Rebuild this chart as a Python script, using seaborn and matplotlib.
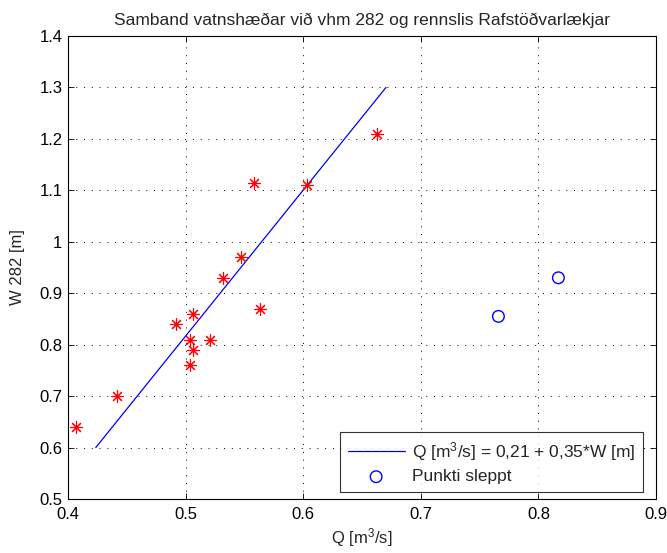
import numpy as np
import pandas as pd
import matplotlib
matplotlib.use("Agg")
import matplotlib.pyplot as plt
import seaborn as sns

# Measured discharge Q [m3/s] and stage W [m]
q_kept = [0.407, 0.442, 0.492, 0.506, 0.5035, 0.506, 0.5035, 0.521, 0.532, 0.547, 0.563, 0.558, 0.603, 0.663]
w_kept = [0.64, 0.70, 0.84, 0.86, 0.81, 0.79, 0.76, 0.81, 0.93, 0.97, 0.87, 1.115, 1.11, 1.21]
q_dropped = [0.766, 0.817]
w_dropped = [0.855, 0.93]

# Fitted relation Q = a + b*W
fit_a = 0.212
fit_b = 0.3526
w_fit = [0.6, 1.3]

sns.set_theme(style="ticks")
plt.rcParams["font.family"] = ["Liberation Sans", "DejaVu Sans"]
plt.rcParams["mathtext.fontset"] = "custom"
plt.rcParams["mathtext.rm"] = "Liberation Sans"
plt.rcParams["mathtext.it"] = "Liberation Sans"
plt.rcParams["font.size"] = 12

fig = plt.figure(figsize=(6.67, 5.53), dpi=100)
ax = fig.add_axes([0.102, 0.0976, 0.8815, 0.8373])

fit_df = pd.DataFrame({"W": w_fit})
fit_df["Q"] = fit_a + fit_b * fit_df["W"]
label_fit = "Q [m$^3$/s] = {} + {}*W [m]".format(
    f"{fit_a:.2f}".replace(".", ","), f"{fit_b:.2f}".replace(".", ","))

sns.lineplot(data=fit_df, x="Q", y="W", color="#0000ff", linewidth=0.9,
             label=label_fit, ax=ax, sort=False)
ax.plot(q_kept, w_kept, linestyle="none", marker=(8, 2, 0), markersize=9,
        markeredgecolor="#ff0000", markeredgewidth=0.8, label="_kept")
sns.scatterplot(x=q_dropped, y=w_dropped, marker="o", s=70, facecolor="none",
                edgecolor="#0000ff", linewidth=1.0, label="Punkti sleppt", ax=ax)

ax.set_xlim(0.4, 0.9)
ax.set_ylim(0.5, 1.4)
ax.set_xticks(np.arange(0.4, 0.91, 0.1))
ax.set_yticks(np.arange(0.5, 1.41, 0.1))
ax.set_xticklabels(["0.4", "0.5", "0.6", "0.7", "0.8", "0.9"])
ax.set_yticklabels(["0.5", "0.6", "0.7", "0.8", "0.9", "1", "1.1", "1.2", "1.3", "1.4"])
ax.grid(True, color="black", linestyle=(0, (1, 7)), linewidth=0.7)
ax.tick_params(direction="in", top=True, right=True, length=4, width=0.6,
               labelsize=12, colors="black")
ax.tick_params(axis="x", pad=6)
ax.tick_params(axis="y", pad=4)
for sp in ax.spines.values():
    sp.set_linewidth(0.8)
    sp.set_color("black")

ax.set_xlabel("Q [m$^3$/s]", fontsize=12, labelpad=3)
ax.set_ylabel("W 282 [m]", fontsize=12, labelpad=10)
ax.set_title("Samband vatnshæðar við vhm 282 og rennslis Rafstöðvarlækjar",
             fontsize=12.5, pad=8)

leg = ax.legend(loc="lower right", frameon=True, fancybox=False, fontsize=12.5,
                handlelength=3.3, borderpad=0.45, labelspacing=0.35,
                handletextpad=0.4, borderaxespad=0,
                bbox_to_anchor=(0.978, 0.015))
leg.get_frame().set_edgecolor("black")
leg.get_frame().set_linewidth(0.8)

fig.savefig("out.png", dpi=100)
